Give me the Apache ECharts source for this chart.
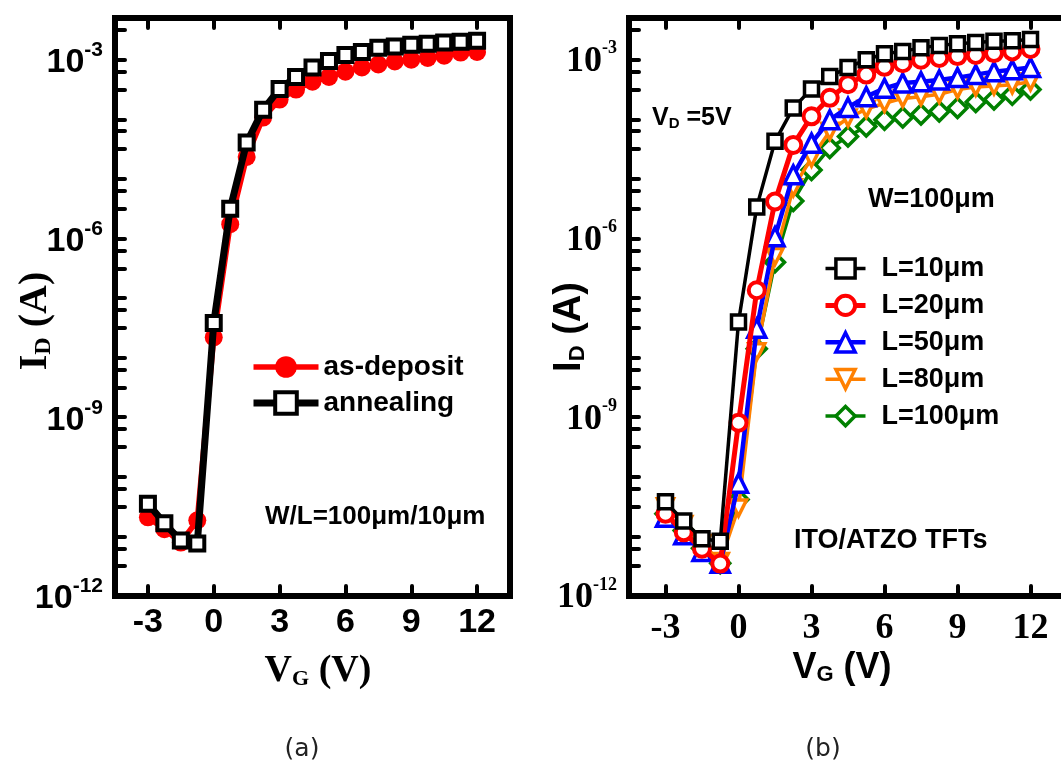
<!DOCTYPE html>
<html><head><meta charset="utf-8">
<script src="https://cdn.jsdelivr.net/npm/echarts@6/dist/echarts.min.js"></script>
<style>html,body{margin:0;padding:0;background:#fff}#c{width:1061px;height:764px}</style>
</head><body><div id="c"></div>
<script>
// ---- data (I_D in amperes, V_G in volts) ----
const vgA = [-3,-2.25,-1.5,-0.75,0,0.75,1.5,2.25,3,3.75,4.5,5.25,6,6.75,7.5,8.25,9,9.75,10.5,11.25,12];
const idAsDeposit = [2.09e-11,1.32e-11,7.9e-12,1.86e-11,2.19e-8,1.74e-6,2.34e-5,1.07e-4,2.14e-4,3.16e-4,4.27e-4,5.13e-4,6.31e-4,7.41e-4,8.32e-4,9.33e-4,1.0e-3,1.07e-3,1.17e-3,1.32e-3,1.35e-3];
const idAnnealing = [3.55e-11,1.66e-11,8.5e-12,7.6e-12,3.8e-8,3.16e-6,4.07e-5,1.45e-4,3.24e-4,5.13e-4,7.41e-4,9.55e-4,1.20e-3,1.35e-3,1.58e-3,1.66e-3,1.78e-3,1.86e-3,1.95e-3,2.0e-3,2.09e-3];

const vgB = [-3,-2.25,-1.5,-0.75,0,0.75,1.5,2.25,3,3.75,4.5,5.25,6,6.75,7.5,8.25,9,9.75,10.5,11.25,12];
const idL10 = [3.8e-11,1.82e-11,9.1e-12,8.3e-12,3.98e-8,3.39e-6,4.27e-5,1.55e-4,3.24e-4,5.25e-4,7.41e-4,1.0e-3,1.26e-3,1.38e-3,1.58e-3,1.74e-3,1.86e-3,1.95e-3,2.04e-3,2.09e-3,2.19e-3];
const idL20 = [2.4e-11,1.17e-11,6.2e-12,3.5e-12,8.1e-10,1.35e-7,4.17e-6,3.72e-5,1.12e-4,2.29e-4,3.89e-4,5.62e-4,7.59e-4,8.71e-4,1.0e-3,1.07e-3,1.15e-3,1.20e-3,1.29e-3,1.38e-3,1.51e-3];
const idL50 = [2.09e-11,1.07e-11,5.6e-12,3.55e-12,7.8e-11,3.1e-8,1.07e-6,1.17e-5,3.98e-5,9.8e-5,1.58e-4,2.40e-4,3.31e-4,4.07e-4,4.27e-4,4.57e-4,5.01e-4,5.62e-4,6.31e-4,6.76e-4,7.41e-4];
const idL80 = [3.16e-11,1.58e-11,7.6e-12,3.8e-12,3.0e-11,1.26e-8,5.0e-7,7.08e-6,2.24e-5,6.31e-5,1.05e-4,1.48e-4,1.86e-4,2.24e-4,2.40e-4,2.63e-4,3.16e-4,3.47e-4,3.63e-4,3.80e-4,4.27e-4];
const idL100 = [2.4e-11,1.26e-11,6.3e-12,3.55e-12,4.17e-11,1.41e-8,3.98e-7,4.27e-6,1.41e-5,3.31e-5,5.13e-5,7.59e-5,9.8e-5,1.07e-4,1.20e-4,1.35e-4,1.55e-4,1.95e-4,2.14e-4,2.57e-4,3.16e-4];

const xTickValues = [-3,0,3,6,9,12];
const yLabelExponents = [-12,-9,-6,-3];
const legendA = ['as-deposit','annealing'];
const legendB = ['L=10μm','L=20μm','L=50μm','L=80μm','L=100μm'];

// ---- styles (not data) ----
const SANS = 'Liberation Sans', SERIF = 'Liberation Serif';
const STY = {
  'as-deposit': {color: '#ff0000', lw: 5.5, symbol: 'circle', size: 18, filled: true, bw: 0, rot: 0, z: 2},
  'annealing':  {color: '#000000', lw: 7, symbol: 'rect', size: 14, filled: false, bw: 4, rot: 0, z: 3},
  'L=100μm': {color: '#008000', lw: 3.5, symbol: 'diamond', size: 19, filled: false, bw: 3.5, rot: 0, z: 2},
  'L=80μm':  {color: '#ff8000', lw: 3.5, symbol: 'triangle', size: 16, filled: false, bw: 3.5, rot: 180, z: 3},
  'L=50μm':  {color: '#0000ff', lw: 4.5, symbol: 'triangle', size: 18, filled: false, bw: 3.5, rot: 0, z: 4},
  'L=20μm':  {color: '#ff0000', lw: 5, symbol: 'circle', size: 16, filled: false, bw: 4, rot: 0, z: 5},
  'L=10μm':  {color: '#000000', lw: 3.5, symbol: 'rect', size: 14, filled: false, bw: 3.5, rot: 0, z: 6}
};

const pts = (xs, ys) => xs.map((x, i) => [x, Math.log10(ys[i])]);
const yTicks = [];
for (let d = -12; d <= -2; d++) {
  [d, d - 0.2, d - 0.5].forEach(v => { if (v >= -12 && v <= -2.3) yTicks.push(+v.toFixed(3)); });
}
const LINE = {show: true, onZero: false, lineStyle: {color: '#000', width: 6, cap: 'square'}};
const TICK = {show: true, inside: true, length: 10, lineStyle: {color: '#000', width: 4, cap: 'round'}};

function xAxisPair(g, font, size, margin) {
  return [
    {gridIndex: g, type: 'value', min: -4.5, max: 13.5, interval: 1.5, position: 'bottom',
     axisLine: LINE, axisTick: Object.assign({customValues: xTickValues}, TICK),
     axisLabel: {customValues: xTickValues, margin: margin, fontFamily: font, fontWeight: 'bold',
                 fontSize: size, lineHeight: 36, color: '#000'},
     splitLine: {show: false}},
    {gridIndex: g, type: 'value', min: -4.5, max: 13.5, interval: 1.5, position: 'top',
     axisLine: LINE, axisTick: Object.assign({customValues: xTickValues}, TICK),
     axisLabel: {show: false}, splitLine: {show: false}}
  ];
}
function yAxisPair(g, font, bsize, ssize) {
  return [
    {gridIndex: g, type: 'value', min: -12, max: -2.3, interval: 3, position: 'left',
     axisLine: LINE, axisTick: Object.assign({customValues: yTicks}, TICK),
     axisLabel: {customValues: yLabelExponents, margin: 12, color: '#000',
       formatter: v => '{b|10}{s|' + Math.round(v) + '}',
       rich: {b: {fontFamily: font, fontWeight: 'bold', fontSize: bsize, lineHeight: 40, verticalAlign: 'bottom', color: '#000'},
              s: {fontFamily: font, fontWeight: 'bold', fontSize: ssize, lineHeight: 20, verticalAlign: 'top', color: '#000'}}},
     splitLine: {show: false}},
    {gridIndex: g, type: 'value', min: -12, max: -2.3, interval: 3, position: 'right',
     axisLine: LINE, axisTick: {show: false}, axisLabel: {show: false}, splitLine: {show: false}}
  ];
}
function lineSeries(name, ai, data) {
  const s = STY[name];
  return {name, type: 'line', xAxisIndex: ai, yAxisIndex: ai, data, color: s.color,
    symbol: s.symbol, symbolSize: s.size, symbolRotate: s.rot, z: s.z,
    lineStyle: {color: s.color, width: s.lw},
    itemStyle: s.filled ? {color: s.color} : {color: '#fff', borderColor: s.color, borderWidth: s.bw},
    emphasis: {disabled: true}};
}
function legendItem(name) {
  const s = STY[name];
  return {name, lineStyle: {width: s.lw, color: s.color},
    itemStyle: s.filled ? {color: s.color, borderWidth: 0} : {color: '#fff', borderColor: s.color, borderWidth: s.bw}};
}
function rt(x, y, text, rich, opts) {
  return Object.assign({type: 'text', x, y, style: {text, rich, align: 'center', verticalAlign: 'middle', fill: '#000'}}, opts || {});
}

const serifMain = s => ({fontFamily: SERIF, fontWeight: 'bold', fontSize: s, lineHeight: 44, verticalAlign: 'bottom', fill: '#000', color: '#000'});
const sansMain = s => ({fontFamily: SANS, fontWeight: 'bold', fontSize: s, lineHeight: 44, verticalAlign: 'bottom', fill: '#000', color: '#000'});
const subOf = (f, s) => ({fontFamily: f, fontWeight: 'bold', fontSize: s, lineHeight: 24, verticalAlign: 'bottom', fill: '#000', color: '#000'});

const chart = echarts.init(document.getElementById('c'), null, {renderer: 'canvas'});
chart.setOption({
  animation: false,
  backgroundColor: '#fff',
  grid: [
    {left: 115, top: 18, width: 395, height: 578, containLabel: false, outerBoundsMode: 'none'},
    {left: 629, top: 18, width: 438, height: 578, containLabel: false, outerBoundsMode: 'none'}
  ],
  xAxis: [].concat(xAxisPair(0, SANS, 34, 9), xAxisPair(1, SERIF, 36, 15)),
  yAxis: [].concat(yAxisPair(0, SANS, 34, 21), yAxisPair(1, SERIF, 36, 18)),
  legend: [
    {data: legendA.map(legendItem), orient: 'vertical', left: 250, top: 353, padding: 0, itemWidth: 65, itemHeight: 27, itemGap: 8,
     selectedMode: false, textStyle: {fontFamily: SANS, fontWeight: 'bold', fontSize: 28, lineHeight: 27, color: '#000'}},
    {data: legendB.map(legendItem), orient: 'vertical', left: 823, top: 255, padding: 0, itemWidth: 40, itemHeight: 24, itemGap: 9.9,
     selectedMode: false, textStyle: {fontFamily: SANS, fontWeight: 'bold', fontSize: 27, lineHeight: 24, color: '#000', padding: [0, 0, 0, 11]}}
  ],
  series: [
    lineSeries('as-deposit', 0, pts(vgA, idAsDeposit)),
    lineSeries('annealing', 0, pts(vgA, idAnnealing)),
    lineSeries('L=100μm', 2, pts(vgB, idL100)),
    lineSeries('L=80μm', 2, pts(vgB, idL80)),
    lineSeries('L=50μm', 2, pts(vgB, idL50)),
    lineSeries('L=20μm', 2, pts(vgB, idL20)),
    lineSeries('L=10μm', 2, pts(vgB, idL10))
  ],
  graphic: [
    rt(34, 321, '{m|I}{s|D}{m| (A)}', {m: serifMain(40), s: subOf(SERIF, 24)}, {rotation: Math.PI / 2}),
    rt(318, 668, '{m|V}{s|G}{m| (V)}', {m: serifMain(38), s: subOf(SERIF, 22)}),
    rt(567, 327, '{m|I}{s|D}{m| (A)}', {m: sansMain(38), s: subOf(SANS, 22)}, {rotation: Math.PI / 2}),
    rt(842, 664, '{m|V}{s|G}{m| (V)}', {m: sansMain(36), s: subOf(SANS, 22)}),
    {type: 'text', x: 265, y: 517, style: {text: 'W/L=100μm/10μm', fontFamily: SANS, fontWeight: 'bold', fontSize: 26, fill: '#000', align: 'left', verticalAlign: 'middle'}},
    {type: 'text', x: 652, y: 116, style: {text: '{m|V}{s|D}{m| =5V}', align: 'left', verticalAlign: 'middle',
      rich: {m: {fontFamily: SANS, fontWeight: 'bold', fontSize: 25, lineHeight: 30, verticalAlign: 'bottom', fill: '#000'},
             s: {fontFamily: SANS, fontWeight: 'bold', fontSize: 15, lineHeight: 16, verticalAlign: 'bottom', fill: '#000'}}}},
    {type: 'text', x: 868, y: 200, style: {text: 'W=100μm', fontFamily: SANS, fontWeight: 'bold', fontSize: 27, fill: '#000', align: 'left', verticalAlign: 'middle'}},
    {type: 'text', x: 794, y: 541, style: {text: 'ITO/ATZO TFTs', fontFamily: SANS, fontWeight: 'bold', fontSize: 27, fill: '#000', align: 'left', verticalAlign: 'middle'}},
    {type: 'text', x: 302, y: 749, style: {text: '(a)', fontFamily: 'DejaVu Sans', fontSize: 25, fill: '#222', align: 'center', verticalAlign: 'middle'}},
    {type: 'text', x: 823, y: 749, style: {text: '(b)', fontFamily: 'DejaVu Sans', fontSize: 25, fill: '#222', align: 'center', verticalAlign: 'middle'}}
  ]
});
</script></body></html>
